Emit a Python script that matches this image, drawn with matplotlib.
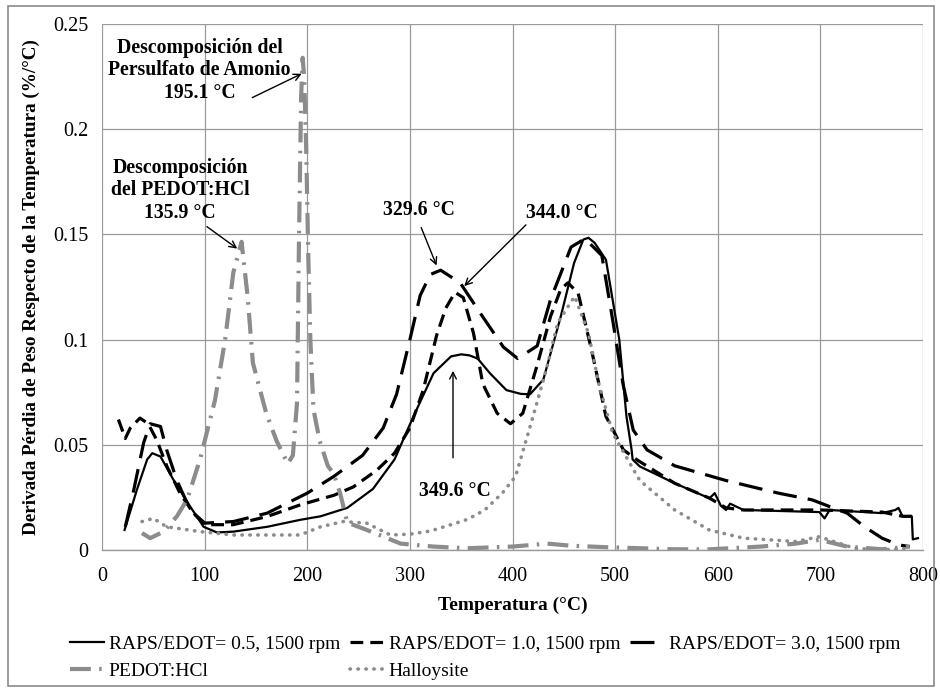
import matplotlib.pyplot as plt
from matplotlib.patches import Rectangle

plt.rcParams.update({
    'font.family': ['Liberation Serif', 'DejaVu Serif'],
    'font.size': 12,
    'axes.linewidth': 1,
})

# RAPS/EDOT = 0.5
t_05 = [22, 34, 44, 49, 57, 70, 86, 99, 112, 128, 161, 193, 213, 239, 264, 285, 303, 323, 340, 350, 358,
        366, 378, 394, 408, 417, 430, 447, 460, 469, 474, 480, 491, 504, 511, 516, 517, 524, 558, 585,
        592, 597, 603, 608, 612, 625, 699, 704, 709, 760, 773, 776, 780, 789, 790, 795]
d_05 = [0.0095, 0.0286, 0.043, 0.046, 0.0444, 0.033, 0.0206, 0.011, 0.0083, 0.0087, 0.011, 0.0143, 0.016,
        0.020, 0.029, 0.043, 0.063, 0.084, 0.092, 0.093, 0.0925, 0.091, 0.084, 0.076, 0.0742, 0.074,
        0.081, 0.111, 0.1365, 0.1476, 0.1484, 0.146, 0.138, 0.100, 0.0635, 0.0476, 0.043, 0.0397, 0.0317,
        0.026, 0.0246, 0.027, 0.021, 0.019, 0.022, 0.019, 0.018, 0.015, 0.019, 0.0175, 0.019, 0.020,
        0.016, 0.016, 0.005, 0.0056]

# RAPS/EDOT = 1.0
t_10 = [16, 22.7, 27.6, 37, 45, 53.6, 63, 76, 89, 102, 128, 161, 193, 226, 245, 268, 285, 300, 313, 326,
        335, 344, 352, 362, 371, 385, 398, 410, 423.5, 437, 447, 454, 464, 477, 491, 508, 521, 558, 592,
        608, 625, 700, 760, 780, 790]
d_10 = [0.062, 0.053, 0.058, 0.0627, 0.060, 0.052, 0.040, 0.027, 0.0175, 0.012, 0.012, 0.0159, 0.0214,
        0.026, 0.030, 0.038, 0.046, 0.058, 0.076, 0.102, 0.115, 0.1225, 0.120, 0.103, 0.079, 0.065,
        0.060, 0.065, 0.087, 0.111, 0.124, 0.127, 0.122, 0.095, 0.0635, 0.0476, 0.0429, 0.0317, 0.0246,
        0.020, 0.019, 0.019, 0.018, 0.016, 0.016]

# RAPS/EDOT = 3.0
t_30 = [22.7, 31, 40.6, 47, 57, 63, 73, 86, 99, 128, 161, 200, 226, 254, 274, 287, 300, 310, 320, 330,
        349, 368, 391, 405, 424, 437, 457, 470.6, 487, 497, 507.6, 517.6, 531, 558, 608, 659, 692, 709,
        726, 743, 760, 776, 787]
d_30 = [0.011, 0.0286, 0.051, 0.060, 0.0587, 0.0476, 0.033, 0.019, 0.0127, 0.0135, 0.0175, 0.027, 0.035,
        0.045, 0.058, 0.074, 0.100, 0.121, 0.131, 0.133, 0.127, 0.113, 0.0965, 0.091, 0.097, 0.119,
        0.144, 0.148, 0.140, 0.111, 0.079, 0.057, 0.0476, 0.040, 0.033, 0.027, 0.0238, 0.0206, 0.0175,
        0.011, 0.0056, 0.0024, 0.0016]

# PEDOT:HCl
t_pe = [39, 47, 60, 73, 83, 95.5, 110, 120, 128, 136, 142, 147, 160, 170, 181, 186, 190, 192, 194, 195.5,
        197, 199, 201, 203, 206, 212, 220, 226, 232, 239, 258, 291, 323, 356, 400, 434, 457, 491, 558,
        592, 642, 676, 699, 726, 760, 787]
d_pe = [0.008, 0.0056, 0.0087, 0.016, 0.024, 0.043, 0.071, 0.100, 0.132, 0.1465, 0.120, 0.089, 0.065,
        0.052, 0.041, 0.045, 0.070, 0.150, 0.215, 0.234, 0.225, 0.190, 0.140, 0.100, 0.067, 0.052, 0.040,
        0.036, 0.027, 0.013, 0.0095, 0.003, 0.0016, 0.0008, 0.0016, 0.003, 0.002, 0.0013, 0.0003, 0.0003,
        0.0016, 0.003, 0.0048, 0.0016, 0.0003, 0.0016]

# Halloysite
t_ha = [39, 50, 63, 96, 128, 193, 213, 235, 258, 281, 300, 320, 340, 356, 373, 390, 403, 420, 433.6, 444,
        460.5, 474, 484, 497.5, 511, 524, 558, 591.6, 625, 676, 699, 713, 733, 760, 787]
d_ha = [0.0135, 0.015, 0.011, 0.0087, 0.0071, 0.0071, 0.011, 0.0135, 0.0127, 0.0071, 0.0075, 0.009,
        0.012, 0.0145, 0.019, 0.027, 0.035, 0.0635, 0.087, 0.108, 0.1206, 0.103, 0.079, 0.0556, 0.044,
        0.033, 0.019, 0.0095, 0.0056, 0.004, 0.0063, 0.004, 0.0008, 0.0, 0.0008]

labels = ['RAPS/EDOT= 0.5, 1500 rpm', 'RAPS/EDOT= 1.0, 1500 rpm', 'RAPS/EDOT= 3.0, 1500 rpm',
          'PEDOT:HCl', 'Halloysite']

fig = plt.figure(figsize=(9.4, 6.9), dpi=100)
ax = fig.add_axes([0.1085, 0.203, 0.8735, 0.762])
fig.patches.append(Rectangle((0.008, 0.006), 0.986, 0.986, transform=fig.transFigure,
                             fill=False, edgecolor='#8a8a8a', linewidth=1.2))

gray = '#8c8c8c'
l1, = ax.plot(t_05, d_05, color='black', lw=1.6, label=labels[0])
l2, = ax.plot(t_10, d_10, color='black', lw=2.3, dashes=(4, 2.2), label=labels[1])
l3, = ax.plot(t_30, d_30, color='black', lw=2.3, dashes=(7.5, 3.5), label=labels[2])
l4, = ax.plot(t_pe, d_pe, color=gray, lw=3, dashes=(5, 2, 0.6, 2), label=labels[3])
l5, = ax.plot(t_ha, d_ha, color=gray, lw=2.6, dashes=(0.1, 2.1), dash_capstyle='round', label=labels[4])

ax.set_xlim(0, 800)
ax.set_ylim(0, 0.25)
ax.set_xticks(range(0, 801, 100))
ax.set_yticks([0, 0.05, 0.1, 0.15, 0.2, 0.25])
ax.set_yticklabels(['0', '0.05', '0.1', '0.15', '0.2', '0.25'])
ax.grid(True, color='#9a9a9a', lw=0.9)
ax.set_axisbelow(True)
for s in ['top', 'right', 'left']:
    ax.spines[s].set_visible(False)
ax.spines['bottom'].set_color('#9a9a9a')
ax.tick_params(length=0, labelsize=14.5)
ax.tick_params(axis='x', pad=12)
ax.tick_params(axis='y', pad=10)
ax.set_xlabel('Temperatura (°C)', fontweight='bold', fontsize=14, labelpad=8)
ax.set_ylabel('Derivada Pérdia de Peso Respecto de la Temperatura (%/°C)', fontweight='bold',
              fontsize=13.8, labelpad=9)

akw = dict(fontweight='bold', fontsize=14.2, ha='center', va='center', linespacing=1.15)
arr = dict(arrowstyle='->', color='black', lw=1)
ax.text(95, 0.228, 'Descomposición del\nPersulfato de Amonio\n195.1 °C', **akw)
ax.annotate('', xy=(197, 0.227), xytext=(144, 0.2145), arrowprops=arr)
ax.text(76, 0.171, 'Descomposición\ndel PEDOT:HCl\n135.9 °C', **akw)
ax.annotate('', xy=(134, 0.1425), xytext=(100, 0.1545), arrowprops=arr)
ax.text(309, 0.1616, '329.6 °C', **akw)
ax.annotate('', xy=(327, 0.134), xytext=(310, 0.1545), arrowprops=arr)
ax.text(448, 0.160, '344.0 °C', **akw)
ax.annotate('', xy=(351, 0.1245), xytext=(415, 0.1555), arrowprops=arr)
ax.text(344, 0.028, '349.6 °C', **akw)
ax.annotate('', xy=(342, 0.0865), xytext=(342, 0.0425), arrowprops=arr)

# row-major order for a 3-column legend
fig.legend(handles=[l1, l4, l2, l5, l3], loc='center left', bbox_to_anchor=(0.0555, 0.047),
           ncol=3, frameon=False, fontsize=14, handlelength=1.75, handletextpad=0.25,
           columnspacing=0.5, labelspacing=0.5)

fig.savefig('out.png', dpi=100)
